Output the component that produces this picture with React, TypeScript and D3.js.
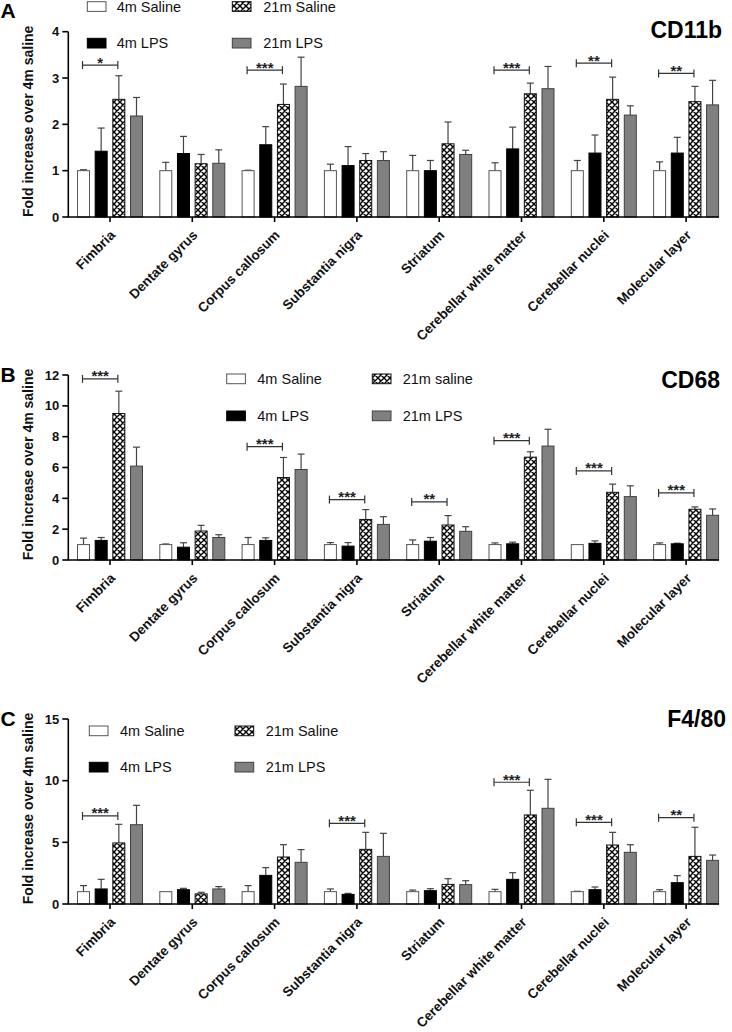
import React from "react";
import * as d3 from "d3";

const categories = [
  "Fimbria",
  "Dentate gyrus",
  "Corpus callosum",
  "Substantia nigra",
  "Striatum",
  "Cerebellar white matter",
  "Cerebellar nuclei",
  "Molecular layer",
];
const seriesKeys = ["sal4", "lps4", "sal21", "lps21"];

// CD11b
const cd11bSal4 = [1.0, 1.0, 1.0, 1.0, 1.0, 1.0, 1.0, 1.0];
const cd11bSal4Err = [0.02, 0.18, 0.01, 0.14, 0.33, 0.17, 0.22, 0.19];
const cd11bLps4 = [1.42, 1.37, 1.56, 1.11, 1.0, 1.47, 1.38, 1.38];
const cd11bLps4Err = [0.5, 0.37, 0.39, 0.41, 0.22, 0.47, 0.39, 0.34];
const cd11bSal21 = [2.54, 1.15, 2.43, 1.22, 1.58, 2.66, 2.54, 2.49];
const cd11bSal21Err = [0.51, 0.2, 0.44, 0.15, 0.47, 0.23, 0.48, 0.33];
const cd11bLps21 = [2.18, 1.16, 2.82, 1.22, 1.35, 2.77, 2.2, 2.42];
const cd11bLps21Err = [0.4, 0.29, 0.63, 0.19, 0.09, 0.48, 0.2, 0.53];
const cd11bSig: [number, number, string][] = [
  [0, 3.28, "*"],
  [2, 3.17, "***"],
  [5, 3.17, "***"],
  [6, 3.32, "**"],
  [7, 3.1, "**"],
];
const cd11bTicks = [0, 1, 2, 3, 4];

// CD68
const cd68Sal4 = [1.0, 1.0, 1.0, 1.0, 1.0, 1.0, 1.0, 1.0];
const cd68Sal4Err = [0.42, 0.04, 0.46, 0.13, 0.3, 0.11, 0.0, 0.11];
const cd68Lps4 = [1.27, 0.83, 1.27, 0.9, 1.22, 1.05, 1.08, 1.05];
const cd68Lps4Err = [0.19, 0.29, 0.17, 0.23, 0.24, 0.11, 0.16, 0.04];
const cd68Sal21 = [9.5, 1.88, 5.35, 2.63, 2.27, 6.67, 4.39, 3.29];
const cd68Sal21Err = [1.45, 0.37, 1.3, 0.64, 0.61, 0.35, 0.53, 0.15];
const cd68Lps21 = [6.09, 1.46, 5.87, 2.31, 1.86, 7.39, 4.11, 2.9];
const cd68Lps21Err = [1.23, 0.18, 1.0, 0.5, 0.3, 1.09, 0.7, 0.41];
const cd68Sig: [number, number, string][] = [
  [0, 11.75, "***"],
  [2, 7.35, "***"],
  [3, 3.92, "***"],
  [4, 3.77, "**"],
  [5, 7.74, "***"],
  [6, 5.78, "***"],
  [7, 4.35, "***"],
];
const cd68Ticks = [0, 2, 4, 6, 8, 10, 12];

// F4/80
const f480Sal4 = [1.0, 1.0, 1.0, 1.0, 1.0, 1.0, 1.0, 1.0];
const f480Sal4Err = [0.49, 0.0, 0.49, 0.22, 0.13, 0.19, 0.03, 0.16];
const f480Lps4 = [1.22, 1.16, 2.32, 0.78, 1.08, 2.0, 1.16, 1.73];
const f480Lps4Err = [0.78, 0.11, 0.63, 0.08, 0.16, 0.54, 0.22, 0.57];
const f480Sal21 = [4.95, 0.82, 3.81, 4.43, 1.59, 7.22, 4.78, 3.86];
const f480Sal21Err = [1.51, 0.13, 1.0, 1.38, 0.46, 2.0, 1.03, 2.36];
const f480Lps21 = [6.43, 1.22, 3.38, 3.86, 1.57, 7.76, 4.19, 3.54];
const f480Lps21Err = [1.57, 0.19, 1.03, 1.87, 0.32, 2.35, 0.62, 0.43];
const f480Sig: [number, number, string][] = [
  [0, 7.14, "***"],
  [3, 6.54, "***"],
  [5, 9.87, "***"],
  [6, 6.62, "***"],
  [7, 7.0, "**"],
];
const f480Ticks = [0, 5, 10, 15];

const legendA = ["4m Saline", "4m LPS", "21m Saline", "21m LPS"];
const legendB = ["4m Saline", "4m LPS", "21m saline", "21m LPS"];
const legendC = ["4m Saline", "4m LPS", "21m Saline", "21m LPS"];

const FONT = "Arial, 'Liberation Sans', Helvetica, sans-serif";

const fills: Record<string, string> = {
  sal4: "#ffffff",
  lps4: "#000000",
  sal21: "url(#hatch)",
  lps21: "#808080",
};
const strokes: Record<string, string> = {
  sal4: "#555555",
  lps4: "#000000",
  sal21: "#111111",
  lps21: "#404040",
};

type PanelCfg = {
  letter: string;
  title: string;
  means: number[][];
  errs: number[][];
  sig: [number, number, string][];
  ticks: number[];
  yMax: number;
  yBottom: number;
  yTop: number;
  legend: string[];
  legendX: [number, number];
  textX: [number, number];
  legendY: [number, number];
  titleX: number;
  titleY: number;
  letterY: number;
};

const panels: PanelCfg[] = [
  {
    letter: "A",
    title: "CD11b",
    means: [cd11bSal4, cd11bLps4, cd11bSal21, cd11bLps21],
    errs: [cd11bSal4Err, cd11bLps4Err, cd11bSal21Err, cd11bLps21Err],
    sig: cd11bSig,
    ticks: cd11bTicks,
    yMax: 4,
    yBottom: 217,
    yTop: 31.7,
    legend: legendA,
    legendX: [87.3, 232.3],
    textX: [116.7, 263.3],
    legendY: [1.7, 38.3],
    titleX: 722,
    titleY: 38.3,
    letterY: 18,
  },
  {
    letter: "B",
    title: "CD68",
    means: [cd68Sal4, cd68Lps4, cd68Sal21, cd68Lps21],
    errs: [cd68Sal4Err, cd68Lps4Err, cd68Sal21Err, cd68Lps21Err],
    sig: cd68Sig,
    ticks: cd68Ticks,
    yMax: 12,
    yBottom: 560,
    yTop: 375,
    legend: legendB,
    legendX: [226.7, 372.3],
    textX: [257.3, 402.7],
    legendY: [374, 411],
    titleX: 720,
    titleY: 388.3,
    letterY: 381.7,
  },
  {
    letter: "C",
    title: "F4/80",
    means: [f480Sal4, f480Lps4, f480Sal21, f480Lps21],
    errs: [f480Sal4Err, f480Lps4Err, f480Sal21Err, f480Lps21Err],
    sig: f480Sig,
    ticks: f480Ticks,
    yMax: 15,
    yBottom: 904,
    yTop: 719,
    legend: legendC,
    legendX: [89.3, 235],
    textX: [120, 265.7],
    legendY: [726, 762.3],
    titleX: 726,
    titleY: 727.3,
    letterY: 726,
  },
];

const AXIS_X = 68.3;
const AXIS_END = 719;

function Panel({ cfg }: { cfg: PanelCfg }) {
  const x = d3.scaleBand<string>().domain(categories).range([68.85, 727.25]).paddingInner(0).paddingOuter(0);
  const inner = d3.scaleBand<string>().domain(seriesKeys).range([-32.5, 32.5]).paddingInner(0.32);
  const y = d3.scaleLinear().domain([0, cfg.yMax]).range([cfg.yBottom, cfg.yTop]);
  const center = (c: string) => (x(c) as number) + x.bandwidth() / 2;
  const bw = inner.bandwidth();
  const capHalf = 3.5;

  return (
    <g>
      {/* bars */}
      {seriesKeys.map((s, si) =>
        categories.map((c, ci) => {
          const v = cfg.means[si][ci];
          const e = cfg.errs[si][ci];
          const bx = center(c) + (inner(s) as number);
          const mx = bx + bw / 2;
          return (
            <g key={s + c}>
              {e > 0 && (
                <g stroke="#444" strokeWidth={1.2}>
                  <line x1={mx} x2={mx} y1={y(v)} y2={y(v + e)} />
                  <line x1={mx - capHalf} x2={mx + capHalf} y1={y(v + e)} y2={y(v + e)} />
                </g>
              )}
              <rect
                x={bx}
                y={y(v)}
                width={bw}
                height={y(0) - y(v)}
                fill={fills[s]}
                stroke={strokes[s]}
                strokeWidth={1}
              />
            </g>
          );
        })
      )}
      {/* significance brackets */}
      {cfg.sig.map(([ci, lv, lab], i) => {
        const c = categories[ci];
        const x1 = center(c) + (inner("sal4") as number) + bw / 2 - 1;
        const x2 = center(c) + (inner("sal21") as number) + bw / 2 - 1;
        const yy = y(lv);
        return (
          <g key={"sig" + i}>
            <g stroke="#333" strokeWidth={1.2}>
              <line x1={x1} x2={x2} y1={yy} y2={yy} />
              <line x1={x1} x2={x1} y1={yy - 4} y2={yy + 4} />
              <line x1={x2} x2={x2} y1={yy - 4} y2={yy + 4} />
            </g>
            <text
              x={(x1 + x2) / 2}
              y={yy + 2.5}
              textAnchor="middle"
              fontFamily={FONT}
              fontWeight="bold"
              fontSize={15}
              fill="#222"
            >
              {lab}
            </text>
          </g>
        );
      })}
      {/* y axis */}
      <line x1={AXIS_X} x2={AXIS_X} y1={y(0)} y2={y(cfg.yMax)} stroke="#000" strokeWidth={1.6} />
      {cfg.ticks.map((t) => (
        <g key={"t" + t}>
          <line x1={AXIS_X - 6} x2={AXIS_X} y1={y(t)} y2={y(t)} stroke="#000" strokeWidth={1.6} />
          <text
            x={AXIS_X - 9}
            y={y(t)}
            dy="0.35em"
            textAnchor="end"
            fontFamily={FONT}
            fontWeight="bold"
            fontSize={13}
            fill="#111"
          >
            {t}
          </text>
        </g>
      ))}
      <text
        transform={`translate(33,${(y(0) + y(cfg.yMax)) / 2 - 3}) rotate(-90)`}
        textAnchor="middle"
        fontFamily={FONT}
        fontWeight="bold"
        fontSize={14}
        fill="#111"
      >
        Fold increase over 4m saline
      </text>
      {/* x axis */}
      <line x1={AXIS_X - 0.8} x2={AXIS_END} y1={y(0)} y2={y(0)} stroke="#000" strokeWidth={1.6} />
      {categories.map((c) => (
        <g key={"x" + c}>
          <line x1={center(c)} x2={center(c)} y1={y(0)} y2={y(0) + 5} stroke="#000" strokeWidth={1.6} />
          <text
            transform={`translate(${center(c) + 6},${y(0) + 19}) rotate(-45)`}
            textAnchor="end"
            fontFamily={FONT}
            fontWeight="bold"
            fontSize={13.5}
            fill="#111"
          >
            {c}
          </text>
        </g>
      ))}
      {/* legend */}
      {seriesKeys.map((s, si) => {
        const col = si < 2 ? 0 : 1;
        const row = si % 2;
        const by = cfg.legendY[row];
        return (
          <g key={"lg" + s}>
            <rect
              x={cfg.legendX[col]}
              y={by}
              width={18.7}
              height={9.7}
              fill={fills[s]}
              stroke={strokes[s]}
              strokeWidth={1}
            />
            <text
              x={cfg.textX[col]}
              y={by + 9.8}
              fontFamily={FONT}
              fontSize={14.5}
              fill="#111"
            >
              {cfg.legend[si]}
            </text>
          </g>
        );
      })}
      {/* title */}
      <text
        x={cfg.titleX}
        y={cfg.titleY}
        textAnchor="end"
        fontFamily={FONT}
        fontWeight="bold"
        fontSize={23}
        fill="#000"
      >
        {cfg.title}
      </text>
      <text x={0.5} y={cfg.letterY} fontFamily={FONT} fontWeight="bold" fontSize={21} fill="#000">
        {cfg.letter}
      </text>
    </g>
  );
}

export default function App() {
  return (
    <svg
      width={732}
      height={1032}
      viewBox="0 0 732 1032"
      style={{ position: "absolute", left: 0, top: 0, background: "#fff" }}
    >
      <defs>
        <pattern id="hatch" patternUnits="userSpaceOnUse" width={6} height={6}>
          <rect width={6} height={6} fill="#fff" />
          <path d="M0,0 L6,6 M6,0 L0,6 M-1,5 L1,7 M5,-1 L7,1 M-1,1 L1,-1 M5,7 L7,5" stroke="#000" strokeWidth={1.4} />
        </pattern>
      </defs>
      <rect width={732} height={1032} fill="#fff" />
      {panels.map((p) => (
        <Panel key={p.letter} cfg={p} />
      ))}
    </svg>
  );
}
